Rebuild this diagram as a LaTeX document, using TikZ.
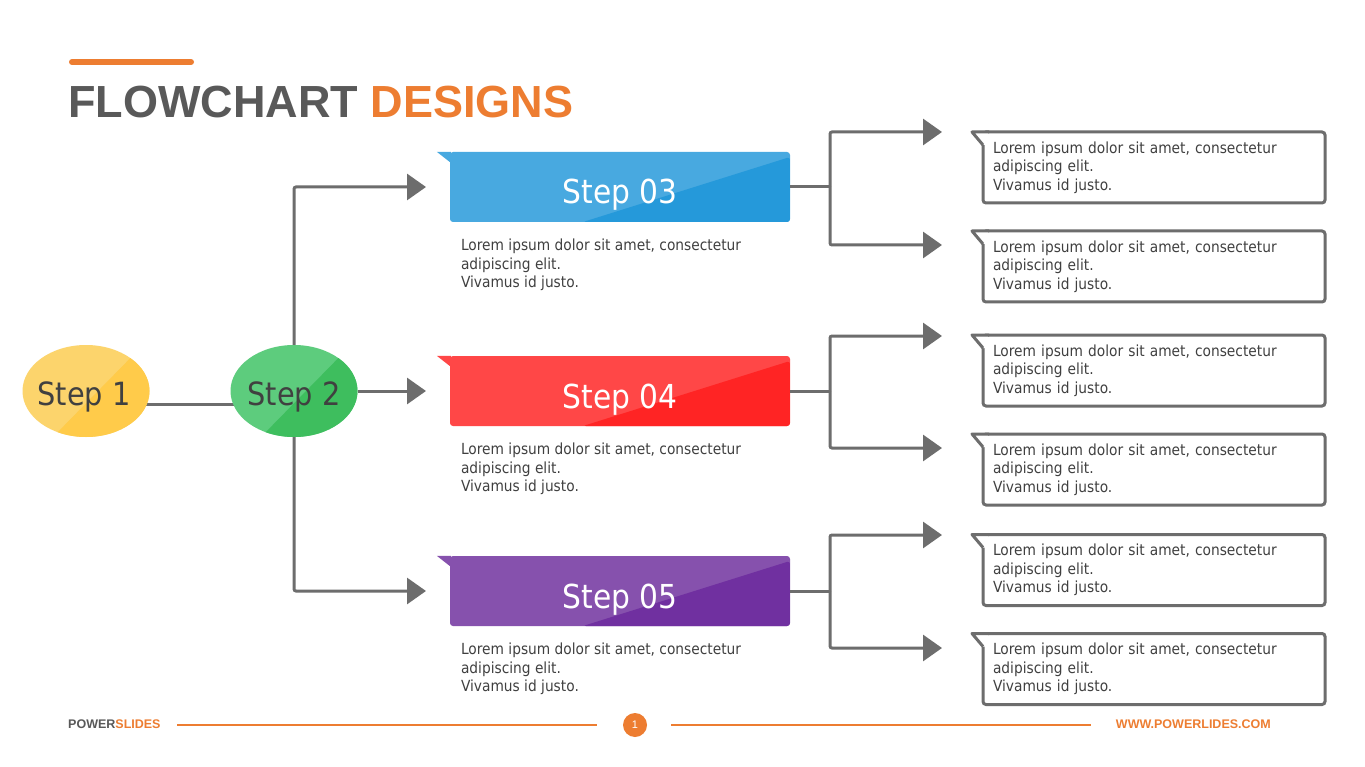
\documentclass[tikz,border=0pt]{standalone}
\usepackage{fontspec}
\setmainfont{Liberation Sans}
\newfontfamily\tah[FakeStretch=0.9]{DejaVu Sans}
\usetikzlibrary{shapes.geometric,arrows.meta,calc}
\pgfdeclarelayer{back}
\pgfdeclarelayer{bg}
\pgfsetlayers{back,bg,main}
\definecolor{conn}{HTML}{6D6D6D}
\definecolor{txt}{HTML}{404040}
\definecolor{ttl}{HTML}{595959}
\definecolor{org}{HTML}{ED7D31}
\definecolor{yl}{HTML}{FCD46C}
\definecolor{yd}{HTML}{FFCB4A}
\definecolor{gl}{HTML}{5DCC7D}
\definecolor{gd}{HTML}{3EBE5E}
\definecolor{bl}{HTML}{48A9E0}
\definecolor{bd}{HTML}{2599DA}
\definecolor{rl}{HTML}{FF4747}
\definecolor{rd}{HTML}{FF2424}
\definecolor{pl}{HTML}{8651AD}
\definecolor{pd}{HTML}{7030A0}
\tikzset{
  wire/.style={draw=conn, line width=3pt, rounded corners=2pt},
  arr/.style={wire, -{Triangle[length=19pt,width=26pt]}},
  oval/.style 2 args={ellipse, minimum width=127pt, minimum height=92pt, inner sep=0pt, fill=#1,
    path picture={\fill[#2] ($(path picture bounding box.south west)!0.24!(path picture bounding box.south east)$)
      -- ($(path picture bounding box.north west)!0.95!(path picture bounding box.north east)$)
      -- (path picture bounding box.north east) -- (path picture bounding box.south east) -- cycle;}},
  ovallabel/.style={anchor=base, inner sep=0pt, text=txt, font=\tah\fontsize{32}{36}\selectfont},
  stepbox/.style 2 args={rectangle, rounded corners=3pt, minimum width=340pt, minimum height=70pt, inner sep=0pt, fill=#1,
    path picture={\fill[#2] ([xshift=133pt]path picture bounding box.south west)
      -- ([yshift=-5pt]path picture bounding box.north east)
      -- (path picture bounding box.south east) -- cycle;}},
  steplabel/.style={anchor=base, inner sep=0pt, text=white, font=\tah\fontsize{33}{36}\selectfont},
  desc/.style={anchor=north west, inner sep=0pt, align=left, text=txt, font=\tah\fontsize{15.3}{18.5}\selectfont},
  note/.style={rectangle, draw=conn, line width=3pt, rounded corners=3pt, fill=white, outer sep=0pt,
    minimum width=342pt, minimum height=71pt, inner xsep=10pt, inner ysep=0pt,
    text width=322pt, align=left, text=txt, font=\tah\fontsize{15.3}{18.5}\selectfont},
  foot/.style={inner sep=0pt, font=\fontsize{12.5}{14}\selectfont\bfseries},
  footline/.style={draw=org, line width=1.3pt}
}
\newcommand{\lorem}{Lorem ipsum dolor sit amet, consectetur\\adipiscing elit.\\Vivamus id justo.}
\newcommand{\stepflap}[2]{\fill[#2] ([xshift=-13pt]#1.north west) -- ([xshift=1pt]#1.north west) -- ([xshift=1pt,yshift=-11pt]#1.north west) -- cycle;}
\newcommand{\noteflap}[1]{%
  \fill[white] ([yshift=-13pt]#1.north west) -- ([xshift=-11pt]#1.north west) -- ([xshift=5pt]#1.north west) -- ([xshift=5pt,yshift=-13pt]#1.north west) -- cycle;
  \draw[conn, line width=3pt, line join=round] ([yshift=-13pt]#1.north west) -- ([xshift=-11pt]#1.north west) -- ([xshift=6pt]#1.north west);}
\begin{document}
\begin{tikzpicture}[x=1pt,y=-1pt]
\begin{pgfonlayer}{back}
\fill[white] (0,0) rectangle (1365,767);
\end{pgfonlayer}
\useasboundingbox (0,0) rectangle (1365,767);

% title
\draw[org, line width=6pt, line cap=round] (72,62) -- (191,62);
\node[anchor=base west, inner sep=0pt, font=\fontsize{45}{50}\selectfont\bfseries] (title) at (68,118)
  {\textcolor{ttl}{FLOWCHART} \textcolor{org}{DESIGNS}};

% ovals
\node[oval={yl}{yd}] (s1) at (86,391) {};
\node[oval={gl}{gd}] (s2) at (294,391) {};
\node[ovallabel] (l1) at ([xshift=-2pt,yshift=-14pt]s1.center) {Step 1};
\node[ovallabel] (l2) at ([yshift=-14pt]s2.center) {Step 2};

% step boxes
\node[stepbox={bl}{bd}] (s3) at (620,187) {};
\node[stepbox={rl}{rd}] (s4) at (620,391) {};
\node[stepbox={pl}{pd}] (s5) at (620,591) {};
\stepflap{s3}{bl}
\stepflap{s4}{rl}
\stepflap{s5}{pl}
\node[steplabel] (l3) at ([yshift=-17pt]s3.center) {Step 03};
\node[steplabel] (l4) at ([yshift=-17pt]s4.center) {Step 04};
\node[steplabel] (l5) at ([yshift=-17pt]s5.center) {Step 05};
\node[desc] (d3) at ([xshift=11pt,yshift=-16.5pt]s3.south west) {\lorem};
\node[desc] (d4) at ([xshift=11pt,yshift=-16.5pt]s4.south west) {\lorem};
\node[desc] (d5) at ([xshift=11pt,yshift=-16.5pt]s5.south west) {\lorem};

% note boxes
\node[note] (r1) at (1154,167.5) {\lorem};
\node[note] (r2) at (1154,266.5) {\lorem};
\node[note] (r3) at (1154,370.5) {\lorem};
\node[note] (r4) at (1154,469.5) {\lorem};
\node[note] (r5) at (1154,570) {\lorem};
\node[note] (r6) at (1154,669) {\lorem};
\noteflap{r1}\noteflap{r2}\noteflap{r3}\noteflap{r4}\noteflap{r5}\noteflap{r6}

% connector points
\coordinate (a3) at (426,187);
\coordinate (a4) at (426,391);
\coordinate (a5) at (426,591);
\coordinate (j3) at (830,187);
\coordinate (j4) at (830,391);
\coordinate (j5) at (830,591);
\coordinate (t3a) at (942,132);
\coordinate (t3b) at (942,245);
\coordinate (t4a) at (942,336);
\coordinate (t4b) at (942,448);
\coordinate (t5a) at (942,535);
\coordinate (t5b) at (942,648);

\begin{pgfonlayer}{bg}
\draw[wire] ([xshift=-8pt,yshift=-13pt]s1.east) -- ([xshift=8pt,yshift=-13pt]s2.west);
\end{pgfonlayer}
\draw[arr] (s2.north) |- (a3);
\draw[arr] (s2.east) -- (a4);
\draw[arr] (s2.south) |- (a5);

\draw[wire] (s3.east) -- (j3);
\draw[arr] (j3) |- (t3a);
\draw[arr] (j3) |- (t3b);
\draw[wire] (s4.east) -- (j4);
\draw[arr] (j4) |- (t4a);
\draw[arr] (j4) |- (t4b);
\draw[wire] (s5.east) -- (j5);
\draw[arr] (j5) |- (t5a);
\draw[arr] (j5) |- (t5b);

% footer
\node[foot, anchor=base west] (ps) at (68,728) {\textcolor{ttl}{POWER}\textcolor{org}{SLIDES}};
\node[circle, fill=org, minimum size=24pt, inner sep=0pt, text=white, font=\fontsize{11}{12}\selectfont] (pg) at (635,725) {1};
\node[foot, anchor=base east, text=org] (url) at (1271,728) {WWW.POWERLIDES.COM};
\draw[footline] (177,725) -- (597,725);
\draw[footline] (671,725) -- (1091,725);
\end{tikzpicture}
\end{document}
